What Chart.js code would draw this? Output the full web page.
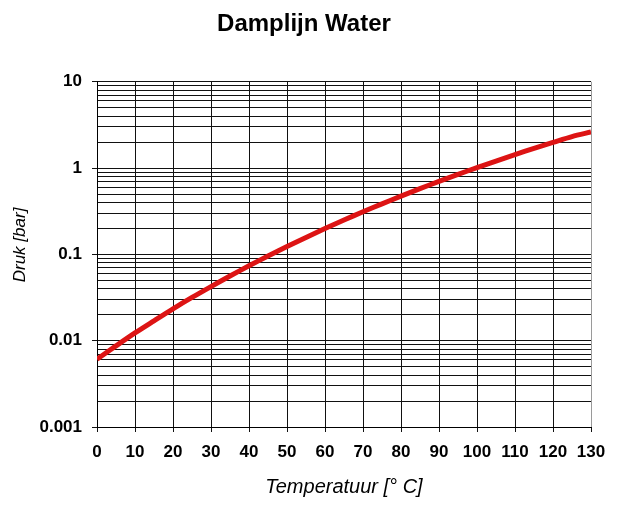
<!DOCTYPE html>
<html>
<head>
<meta charset="utf-8">
<script src="https://cdn.jsdelivr.net/npm/chart.js@4/dist/chart.umd.min.js"></script>
<style>
  html, body { margin: 0; padding: 0; background: #ffffff; }
  #c { display: block; }
</style>
</head>
<body>
<canvas id="c" width="622" height="520"></canvas>
<script>
// ---- data ----
const temperatures = [0, 5, 10, 15, 20, 25, 30, 35, 40, 45, 50, 55, 60, 65, 70, 75, 80, 85, 90, 95, 100, 105, 110, 115, 120, 125, 130];
const pressures = [0.0061, 0.0087, 0.0123, 0.0170, 0.0234, 0.0317, 0.0424, 0.0562, 0.0738, 0.0959, 0.1234, 0.1574, 0.1992, 0.2501, 0.3116, 0.3855, 0.4736, 0.5780, 0.7011, 0.8453, 1.013, 1.208, 1.433, 1.691, 1.985, 2.321, 2.62];
const xTickLabels = [0, 10, 20, 30, 40, 50, 60, 70, 80, 90, 100, 110, 120, 130];
const yDecadeLabels = ['0.001', '0.01', '0.1', '1', '10'];
const titleText = 'Damplijn Water';
const xTitle = 'Temperatuur [° C]';
const yTitle = 'Druk [bar]';

// log grid ticks: 1..9 per decade
const yDecades = yDecadeLabels.map(Number);
const yGridValues = [];
for (let i = 0; i < yDecades.length - 1; i++) {
  for (let m = 1; m <= 9; m++) yGridValues.push(Number((m * yDecades[i]).toPrecision(3)));
}
yGridValues.push(yDecades[yDecades.length - 1]);

const points = temperatures.map((t, i) => ({ x: t, y: pressures[i] }));

const FONT = "'Liberation Sans', Arial, Helvetica, sans-serif";

new Chart(document.getElementById('c'), {
  type: 'line',
  data: {
    datasets: [{
      data: points,
      borderColor: '#dd1414',
      borderWidth: 5,
      pointRadius: 0,
      tension: 0.3,
      fill: false
    }]
  },
  options: {
    responsive: false,
    animation: false,
    layout: { padding: { top: 0, left: 0, right: 14, bottom: 0 } },
    plugins: {
      legend: { display: false },
      tooltip: { enabled: false },
      title: {
        display: true,
        text: titleText,
        color: '#000',
        font: { family: FONT, size: 24, weight: 'bold' },
        padding: { top: 10, bottom: 43 }
      }
    },
    scales: {
      x: {
        type: 'linear',
        min: xTickLabels[0],
        max: xTickLabels[xTickLabels.length - 1],
        afterBuildTicks: (s) => { s.ticks = xTickLabels.map(v => ({ value: v })); },
        afterFit: (s) => { s.height = 93; s.paddingRight = 31; s.paddingLeft = 0; },
        ticks: {
          autoSkip: false,
          maxRotation: 0,
          padding: 10,
          color: '#000',
          font: { family: FONT, size: 17, weight: 'bold' }
        },
        grid: {
          color: (ctx) => (ctx.tick && ctx.tick.value === 130) ? '#9a9a9a' : '#111111',
          lineWidth: 1,
          tickLength: 5,
          tickColor: '#111111'
        },
        border: { color: '#000', width: 1 },
        title: {
          display: true,
          text: xTitle,
          color: '#000',
          font: { family: FONT, size: 20, style: 'italic' },
          padding: { top: 0, bottom: 21 }
        }
      },
      y: {
        type: 'logarithmic',
        min: yDecades[0],
        max: yDecades[yDecades.length - 1],
        afterBuildTicks: (s) => { s.ticks = yGridValues.map(v => ({ value: v })); },
        afterFit: (s) => { s.width = 97; },
        ticks: {
          autoSkip: false,
          padding: 10,
          color: '#000',
          font: { family: FONT, size: 17, weight: 'bold' },
          callback: (v) => {
            const idx = yDecades.findIndex(d => Math.abs(d - v) / d < 1e-6);
            return idx >= 0 ? yDecadeLabels[idx] : '';
          }
        },
        grid: {
          color: '#111111',
          lineWidth: 1,
          tickLength: 5,
          tickColor: (ctx) => {
            const v = ctx.tick ? ctx.tick.value : 0;
            return yDecades.some(d => Math.abs(d - v) / d < 1e-6) ? '#111111' : 'rgba(0,0,0,0)';
          }
        },
        border: { color: '#000', width: 1 },
        title: {
          display: true,
          text: '    ' + yTitle,
          color: '#000',
          font: { family: FONT, size: 17, style: 'italic' },
          padding: { top: 10, bottom: 0 }
        }
      }
    }
  }
});
</script>
</body>
</html>
